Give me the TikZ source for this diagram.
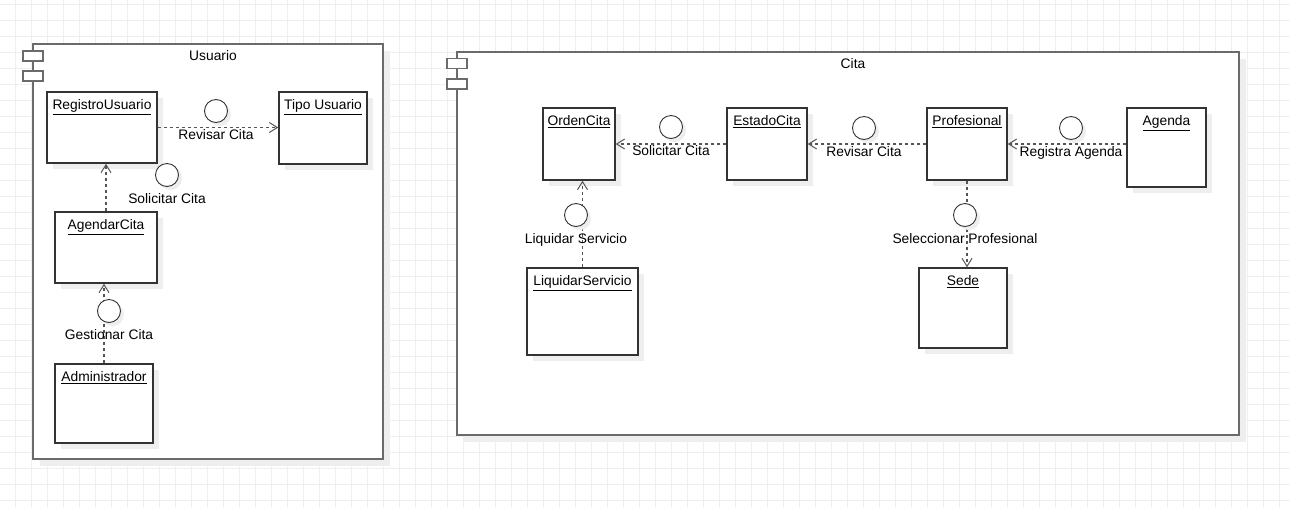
\documentclass[tikz,border=0pt]{standalone}
\usepackage{fontspec}
\setmainfont{Liberation Sans}
\usetikzlibrary{arrows.meta,shapes,shadows}

\definecolor{gridgray}{HTML}{EFEFEF}
\definecolor{boxline}{HTML}{333333}
\definecolor{pkgline}{HTML}{6B6B6B}
\definecolor{depline}{HTML}{555555}
\definecolor{shadowgray}{HTML}{EEEEEE}

\tikzset{
  gridline/.style={draw=gridgray,line width=0.8pt},
  boxshadow/.style={general shadow={fill=shadowgray,shadow xshift=#1,shadow yshift=-#1}},
  pkgbox/.style={draw=pkgline,fill=white,line width=1.6pt,boxshadow=7pt,rectangle,inner sep=0pt},
  pkgtab/.style={draw=pkgline,fill=white,line width=1.4pt,rectangle,minimum width=20pt,minimum height=10pt,inner sep=0pt},
  classbox/.style={draw=boxline,fill=white,line width=1.5pt,boxshadow=6pt,rectangle,inner sep=0pt},
  boxtitle/.style={anchor=north,inner sep=0pt,yshift=-8pt},
  pkgtitle/.style={anchor=north,inner sep=0pt,yshift=-7.5pt,xshift=5pt},
  iface/.style={draw=boxline,fill=white,line width=0.9pt,circle,minimum size=23pt,inner sep=0pt,boxshadow=3.5pt},
  ifacelbl/.style={inner sep=1pt,label distance=5.5pt},
  dep/.style={draw=depline,line width=1.2pt,dash pattern=on 3pt off 3pt,
    -{Straight Barb[length=8pt,width=10pt,line width=1pt]}},
}

\begin{document}
\begin{tikzpicture}[x=1pt,y=-1pt,font=\fontsize{13.8}{15}\selectfont]
    \useasboundingbox (0,0) rectangle (1290,507);
    \fill[white] (0,0) rectangle (1290,507);
    % background grid
    \foreach \gx in {15.5,31.5,...,1290} \draw[gridline] (\gx,0) -- (\gx,507);
    \foreach \gy in {4,20,...,507} \draw[gridline] (0,\gy) -- (1290,\gy);

    % packages
    \node[pkgbox,minimum width=350,minimum height=415,label={[pkgtitle]north:Usuario}] (usuario) at (208,251.5) {};
    \node[pkgtab] (usrtaba) at (33,56) {};
    \node[pkgtab] (usrtabb) at (33,76) {};
    \node[pkgbox,minimum width=782,minimum height=383,label={[pkgtitle]north:Cita}] (cita) at (848,243.5) {};
    \node[pkgtab] (citataba) at (457,63.5) {};
    \node[pkgtab] (citatabb) at (457,84) {};

    % Usuario
    \node[classbox,minimum width=110,minimum height=71,label={[boxtitle]north:\underline{RegistroUsuario}}] (regusr) at (102,127.5) {};
    \node[classbox,minimum width=88,minimum height=72,label={[boxtitle]north:\underline{Tipo Usuario}}] (tipousr) at (323,128) {};
    \node[classbox,minimum width=102,minimum height=71,label={[boxtitle]north:\underline{AgendarCita}}] (agendar) at (106,247.5) {};
    \node[classbox,minimum width=98,minimum height=79,label={[boxtitle]north:\underline{Administrador}}] (admin) at (104,403.5) {};

    % Cita
    \node[classbox,minimum width=72,minimum height=72,label={[boxtitle]north:\underline{OrdenCita}}] (orden) at (579,144) {};
    \node[classbox,minimum width=80,minimum height=72,label={[boxtitle]north:\underline{EstadoCita}}] (estado) at (767,144) {};
    \node[classbox,minimum width=80,minimum height=72,label={[boxtitle]north:\underline{Profesional}}] (prof) at (967,144) {};
    \node[classbox,minimum width=79,minimum height=79,label={[boxtitle]north:\underline{Agenda}}] (agenda) at (1166.5,147.5) {};
    \node[classbox,minimum width=111,minimum height=87,label={[boxtitle]north:\underline{LiquidarServicio}}] (liquidar) at (582.5,311.5) {};
    \node[classbox,minimum width=88,minimum height=80,label={[boxtitle]north:\underline{Sede}}] (sede) at (963,308) {};

    % dependencies
    \draw[dep] (regusr.east) -- (regusr.east -| tipousr.west);
    \draw[dep] (agendar.north) -- (agendar.north |- regusr.south);
    \draw[dep] (admin.north) -- (admin.north |- agendar.south);
    \draw[dep] (estado.west) -- (orden.east);
    \draw[dep] (prof.west) -- (estado.east);
    \draw[dep] (prof.east -| agenda.west) -- (prof.east);
    \draw[dep] (liquidar.north) -- (liquidar.north |- orden.south);
    \draw[dep] (prof.south) -- (prof.south |- sede.north);

    % interfaces
    \node[iface,label={[ifacelbl]below:Revisar Cita}] (ifrevusr) at (216,111) {};
    \node[iface,label={[ifacelbl]below:Solicitar Cita}] (ifsolusr) at (167,175) {};
    \node[iface,label={[ifacelbl]below:Gestionar Cita}] (ifgest) at (109,311) {};
    \node[iface,label={[ifacelbl]below:Solicitar Cita}] (ifsolcita) at (671,127) {};
    \node[iface,label={[ifacelbl]below:Revisar Cita}] (ifrevcita) at (864,128) {};
    \node[iface,label={[ifacelbl]below:Registra Agenda}] (ifreg) at (1071,128) {};
    \node[iface,label={[ifacelbl]below:Liquidar Servicio}] (ifliq) at (576,215) {};
    \node[iface,label={[ifacelbl]below:Seleccionar Profesional}] (ifsel) at (965,215) {};
\end{tikzpicture}
\end{document}
